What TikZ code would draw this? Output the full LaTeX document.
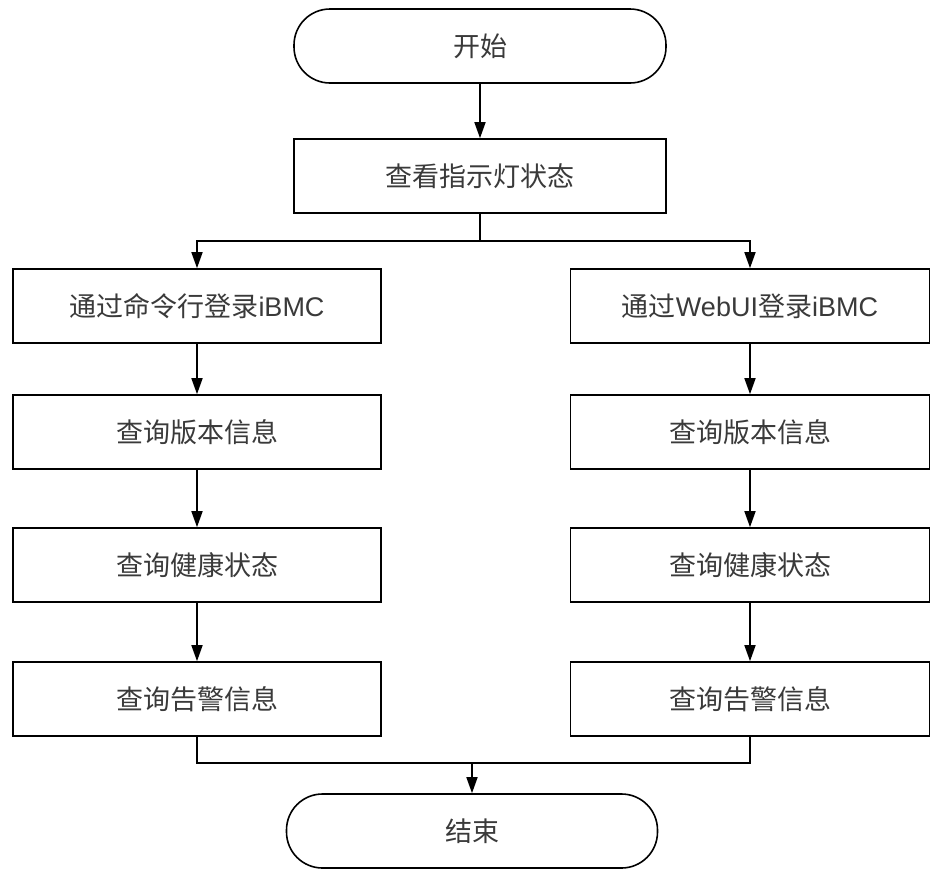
\documentclass[tikz,border=0pt]{standalone}
\usepackage{fontspec}
\setmainfont{Liberation Sans}
\newfontfamily\cjk{Noto Sans CJK SC}
\usetikzlibrary{arrows.meta}
\definecolor{flowink}{HTML}{000000}
\definecolor{flowtext}{HTML}{3A3A3A}

\tikzset{
  flowbox/.style={draw=flowink,line width=1.6pt,fill=white,minimum height=74pt,inner sep=0pt,text=flowtext},
  terminal/.style={flowbox,rounded corners=36pt,minimum width=372pt},
  flowarrow/.style={draw=flowink,line width=1.6pt,-{Triangle[length=16pt,width=11pt]}},
  flowline/.style={draw=flowink,line width=1.6pt}
}

\begin{document}
\begin{tikzpicture}[x=1pt,y=-1pt,font=\fontsize{27}{31}\selectfont]
        \useasboundingbox (0,0) rectangle (932,868);

        \node[terminal] (start) at (480,46) {\cjk 开始};
        \node[flowbox,minimum width=372pt] (check) at (480,176) {\cjk 查看指示灯状态};

        % left column: command line
        \node[flowbox,minimum width=368pt] (cli) at (197,306) {{\cjk 通过命令行登录}iBMC};
        \node[flowbox,minimum width=368pt] (cliver) at (197,432) {\cjk 查询版本信息};
        \node[flowbox,minimum width=368pt] (clihealth) at (197,565) {\cjk 查询健康状态};
        \node[flowbox,minimum width=368pt] (clialarm) at (197,699) {\cjk 查询告警信息};

        % right column: web ui
        \node[flowbox,minimum width=359pt] (web) at (750,306) {{\cjk 通过}WebUI{\cjk 登录}iBMC};
        \node[flowbox,minimum width=359pt] (webver) at (750,432) {\cjk 查询版本信息};
        \node[flowbox,minimum width=359pt] (webhealth) at (750,565) {\cjk 查询健康状态};
        \node[flowbox,minimum width=359pt] (webalarm) at (750,699) {\cjk 查询告警信息};

        \node[terminal,minimum width=371pt] (stop) at (472,831) {\cjk 结束};

        \coordinate (split) at (480,241);
        \coordinate (join) at (472,763);

        \draw[flowarrow] (start) -- (check);
        \draw[flowline] (check) -- (split);
        \draw[flowarrow] (split) -| (cli);
        \draw[flowarrow] (split) -| (web);
        \foreach \a/\b in {cli/cliver,cliver/clihealth,clihealth/clialarm,web/webver,webver/webhealth,webhealth/webalarm}
          \draw[flowarrow] (\a) -- (\b);
        \draw[flowline] (clialarm) |- (join);
        \draw[flowline] (webalarm) |- (join);
        \draw[flowarrow] (join) -- (stop);
      \end{tikzpicture}
\end{document}
